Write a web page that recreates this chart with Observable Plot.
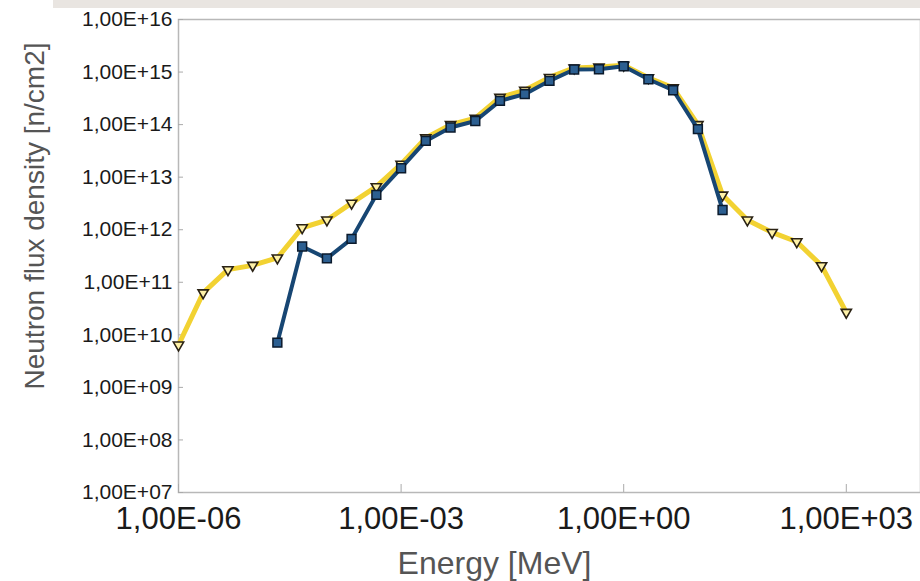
<!DOCTYPE html>
<html>
<head>
<meta charset="utf-8">
<script src="https://cdn.jsdelivr.net/npm/d3@7"></script>
<script src="https://cdn.jsdelivr.net/npm/@observablehq/plot@0.6"></script>
<style>
  html, body { margin: 0; padding: 0; background: #ffffff; }
  #wrap { position: relative; width: 920px; height: 581px; overflow: hidden; }
  #band { position: absolute; left: 53px; top: 0; width: 867px; height: 8px; background: #e9e5e1; }
</style>
</head>
<body>
<div id="wrap"><div id="chart"></div><div id="band"></div></div>
<script>
// Energy bins [MeV]
const energy = [1.00e-6, 2.15e-6, 4.64e-6, 1.00e-5, 2.15e-5, 4.64e-5, 1.00e-4, 2.15e-4, 4.64e-4,
  1.00e-3, 2.15e-3, 4.64e-3, 1.00e-2, 2.15e-2, 4.64e-2, 1.00e-1, 2.15e-1, 4.64e-1,
  1.00e0, 2.15e0, 4.64e0, 1.00e1, 2.15e1, 4.64e1, 1.00e2, 2.15e2, 4.64e2, 1.00e3];
// Yellow series (triangles)
const yellowFlux = [6.4e9, 6.3e10, 1.74e11, 2.1e11, 2.9e11, 1.09e12, 1.53e12, 3.2e12, 6.6e12,
  1.77e13, 5.6e13, 1.0e14, 1.32e14, 3.3e14, 4.5e14, 7.9e14, 1.2e15, 1.25e15,
  1.35e15, 7.8e14, 5.0e14, 1.0e14, 4.56e12, 1.53e12, 8.9e11, 5.9e11, 2.07e11, 2.68e10];
// Blue series (squares)
const blueEnergy = [2.15e-5, 4.64e-5, 1.00e-4, 2.15e-4, 4.64e-4, 1.00e-3, 2.15e-3, 4.64e-3, 1.00e-2,
  2.15e-2, 4.64e-2, 1.00e-1, 2.15e-1, 4.64e-1, 1.00e0, 2.15e0, 4.64e0, 1.00e1, 2.15e1];
const blueFlux = [7.1e9, 4.8e11, 2.85e11, 6.7e11, 4.6e12, 1.48e13, 4.9e13, 8.8e13, 1.17e14,
  2.83e14, 3.8e14, 6.8e14, 1.12e15, 1.13e15, 1.29e15, 7.3e14, 4.5e14, 8.2e13, 2.37e12];
// Ticks
const xTicks = [1e-6, 1e-3, 1e0, 1e3];
const yTicks = [1e7, 1e8, 1e9, 1e10, 1e11, 1e12, 1e13, 1e14, 1e15, 1e16];
const xLabel = "Energy [MeV]";
const yLabel = "Neutron flux density [n/cm2]";

const yellow = energy.map((e, i) => ({e, f: yellowFlux[i]}));
const blue = blueEnergy.map((e, i) => ({e, f: blueFlux[i]}));

const fmt = d => {
  const p = Math.round(Math.log10(d));
  return "1,00E" + (p < 0 ? "-" : "+") + String(Math.abs(p)).padStart(2, "0");
};

const chart = Plot.plot({
  width: 920,
  height: 581,
  marginLeft: 178,
  marginRight: 0,
  marginTop: 19,
  marginBottom: 89,
  style: {fontFamily: "'Liberation Sans', Arial, sans-serif", background: "transparent"},
  x: {type: "log", domain: [1e-6, 1e4], axis: null},
  y: {type: "log", domain: [1e7, 1e16], axis: null},
  marks: [
    Plot.frame({stroke: "#b8b8b8", strokeWidth: 1.5}),
    // inward tick marks
    Plot.axisY(yTicks, {anchor: "left", tickSize: 5, dx: 5, text: null, stroke: "#aaa", label: null}),
    Plot.axisX(xTicks, {anchor: "bottom", tickSize: 8, dy: -8, text: null, stroke: "#aaa", label: null}),
    // tick labels
    Plot.axisY(yTicks, {anchor: "left", tickSize: 0, tickPadding: 6, tickFormat: fmt,
      fontSize: 21, fill: "#1a1a1a", label: null}),
    Plot.axisX(xTicks, {anchor: "bottom", tickSize: 0, tickPadding: 14, tickFormat: fmt,
      fontSize: 31, fill: "#1a1a1a", label: null}),
    Plot.text([xLabel], {frameAnchor: "bottom", dx: -55, dy: 71, fontSize: 32, fill: "#555",
      lineAnchor: "middle"}),
    Plot.text([yLabel], {frameAnchor: "left", dx: -143, dy: -40, rotate: -90, fontSize: 28,
      fill: "#555", lineAnchor: "middle", textAnchor: "middle"}),
    // yellow series
    Plot.line(yellow, {x: "e", y: "f", stroke: "#f2d232", strokeWidth: 5}),
    Plot.dot(yellow, {x: "e", y: "f", symbol: "triangle", rotate: 180, r: 3.8,
      fill: "#fff2a8", stroke: "#2a2214", strokeWidth: 1.6}),
    // blue series
    Plot.line(blue, {x: "e", y: "f", stroke: "#174673", strokeWidth: 4}),
    Plot.dot(blue, {x: "e", y: "f", symbol: "square", r: 5,
      fill: "#2c5f91", stroke: "#0b1a2c", strokeWidth: 1.5})
  ]
});
document.getElementById("chart").appendChild(chart);
</script>
</body>
</html>
